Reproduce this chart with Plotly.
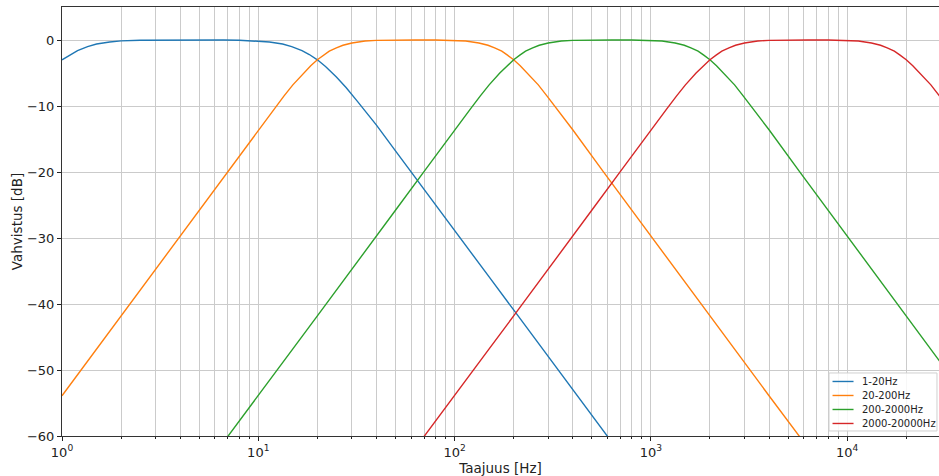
import plotly.graph_objects as go

# Frequency response of four band-pass filters (gain in dB vs frequency in Hz)
f_band1 = [1, 1.1, 1.2, 1.35, 1.5, 1.75, 2, 2.5, 3, 4.47, 6.67, 8, 10, 11.4, 13.3, 14.8,
           16.7, 18.2, 20, 22, 25, 28, 32, 40, 50, 70, 100, 150, 200, 300, 500, 700]
g_band1 = [-3.0, -2.2, -1.6, -1.0, -0.6, -0.3, -0.13, -0.03, -0.01, 0.0, -0.01, -0.03, -0.13,
           -0.3, -0.6, -1.0, -1.6, -2.2, -3.0, -4.0, -5.6, -7.2, -9.3, -12.9, -16.8, -22.6,
           -28.8, -35.9, -40.9, -47.9, -56.8, -62.7]

f_band2 = [1, 1.5, 2, 3, 5, 7, 10, 12, 13.5, 15, 17, 18.5, 20, 21.5, 23, 25, 27, 30, 35, 40,
           45, 50, 63, 80, 89, 100, 114, 133, 148, 160, 174, 186, 200, 216, 235, 267, 296,
           333, 400, 571, 800, 1333, 2000, 2667, 4000, 6000, 8000]
g_band2 = [-53.9, -46.8, -41.8, -34.8, -25.8, -19.9, -13.6, -10.5, -8.5, -6.8, -5.0, -3.9,
           -3.0, -2.3, -1.7, -1.2, -0.8, -0.45, -0.16, -0.05, -0.02, 0.0, 0.0, 0.0, -0.02,
           -0.05, -0.16, -0.45, -0.8, -1.2, -1.7, -2.3, -3.0, -3.9, -5.0, -6.8, -8.5, -10.5,
           -13.6, -19.9, -25.8, -34.8, -41.8, -46.8, -53.9, -60.9, -65.9]

f_band3 = [5, 7, 10, 15, 20, 30, 50, 70, 100, 120, 135, 150, 170, 185, 200, 215, 230, 250,
           270, 300, 350, 400, 450, 500, 632, 800, 890, 1000, 1140, 1330, 1480, 1600, 1740,
           1860, 2000, 2160, 2350, 2670, 2960, 3330, 4000, 5710, 8000, 13330, 20000, 26670,
           30000]
g_band3 = [-65.9, -60.1, -53.9, -46.8, -41.8, -34.8, -25.8, -19.9, -13.6, -10.5, -8.5, -6.8,
           -5.0, -3.9, -3.0, -2.3, -1.7, -1.2, -0.8, -0.45, -0.16, -0.05, -0.02, 0.0, 0.0,
           0.0, -0.02, -0.05, -0.16, -0.45, -0.8, -1.2, -1.7, -2.3, -3.0, -3.9, -5.0, -6.8,
           -8.5, -10.5, -13.6, -19.9, -25.8, -34.8, -41.8, -46.8, -48.9]

f_band4 = [50, 70, 100, 150, 200, 300, 500, 700, 1000, 1200, 1350, 1500, 1700, 1850, 2000,
           2150, 2300, 2500, 2700, 3000, 3500, 4000, 4500, 5000, 6325, 8000, 8900, 10000,
           11400, 13300, 14800, 16000, 17400, 18600, 20000, 21600, 23500, 26700, 29600, 30000]
g_band4 = [-65.9, -60.1, -53.9, -46.8, -41.8, -34.8, -25.8, -19.9, -13.6, -10.5, -8.5, -6.8,
           -5.0, -3.9, -3.0, -2.3, -1.7, -1.2, -0.8, -0.45, -0.16, -0.05, -0.02, 0.0, 0.0,
           0.0, -0.02, -0.05, -0.16, -0.45, -0.8, -1.2, -1.7, -2.3, -3.0, -3.9, -5.0, -6.8,
           -8.5, -8.7]

band_names = ["1-20Hz", "20-200Hz", "200-2000Hz", "2000-20000Hz"]
band_colors = ["#1f77b4", "#ff7f0e", "#2ca02c", "#d62728"]

x_major = [1, 10, 100, 1000, 10000]
x_major_text = ["10<sup>0</sup>", "10<sup>1</sup>", "10<sup>2</sup>", "10<sup>3</sup>", "10<sup>4</sup>"]
x_minor = [m * d for d in (1, 10, 100, 1000, 10000) for m in range(2, 10)]
y_ticks = [0, -10, -20, -30, -40, -50, -60]
y_tick_text = ["0", "\u221210", "\u221220", "\u221230", "\u221240", "\u221250", "\u221260"]

fig = go.Figure()
for fx, gy, name, col in zip([f_band1, f_band2, f_band3, f_band4],
                             [g_band1, g_band2, g_band3, g_band4],
                             band_names, band_colors):
    fig.add_trace(go.Scatter(x=fx, y=gy, mode="lines", name=name, showlegend=False,
                             line=dict(color=col, width=1.4)))

grid_col = "#cbcbcb"
font_family = "DejaVu Sans"

fig.update_layout(
    width=939, height=476,
    margin=dict(l=62, r=0, t=7, b=40),
    plot_bgcolor="white", paper_bgcolor="white",
    font=dict(family=font_family, size=12, color="#222"),
    showlegend=False,
)

# Compact legend box in the lower-right corner (paper coordinates)
plot_w, plot_h = 877.0, 429.0
box_x0, box_x1 = 0.8746, 0.9977
box_y0, box_y1 = 0.0117, 0.1469
fig.add_shape(type="rect", xref="paper", yref="paper",
              x0=box_x0, x1=box_x1, y0=box_y0, y1=box_y1,
              line=dict(color="#d0d0d0", width=1), fillcolor="rgba(255,255,255,0.85)",
              layer="above")
row_step = 14.0 / plot_h
first_row = box_y1 - 8.5 / plot_h
for i, (name, col) in enumerate(zip(band_names, band_colors)):
    yy = first_row - i * row_step
    fig.add_shape(type="line", xref="paper", yref="paper",
                  x0=box_x0 + 3.5 / plot_w, x1=box_x0 + 24.5 / plot_w, y0=yy, y1=yy,
                  line=dict(color=col, width=1.4), layer="above")
    fig.add_annotation(xref="paper", yref="paper", x=box_x0 + 31 / plot_w, y=yy,
                       text=name, showarrow=False, xanchor="left", yanchor="middle",
                       font=dict(family=font_family, size=10, color="#222"))

fig.update_xaxes(
    type="log", range=[0, 4.468],
    tickvals=x_major, ticktext=x_major_text,
    ticks="outside", ticklen=4, tickwidth=1, tickcolor="#222",
    showgrid=True, gridcolor=grid_col, gridwidth=0.8,
    showline=True, linecolor="#333", linewidth=1, mirror=True,
    zeroline=False,
    tickfont=dict(size=13),
    minor=dict(tickvals=x_minor, ticks="outside", ticklen=2, tickcolor="#222",
               showgrid=True, gridcolor=grid_col, gridwidth=0.8),
    title=dict(text="Taajuus [Hz]", font=dict(size=13.5), standoff=2),
)
fig.update_yaxes(
    range=[-60, 5],
    tickvals=y_ticks, ticktext=y_tick_text,
    ticks="outside", ticklen=4, tickwidth=1, tickcolor="#222",
    showgrid=True, gridcolor=grid_col, gridwidth=0.8,
    showline=True, linecolor="#333", linewidth=1,
    zeroline=False,
    tickfont=dict(size=13),
    title=dict(text="Vahvistus [dB]", font=dict(size=13.5), standoff=1),
)

fig.write_html("out.html")
